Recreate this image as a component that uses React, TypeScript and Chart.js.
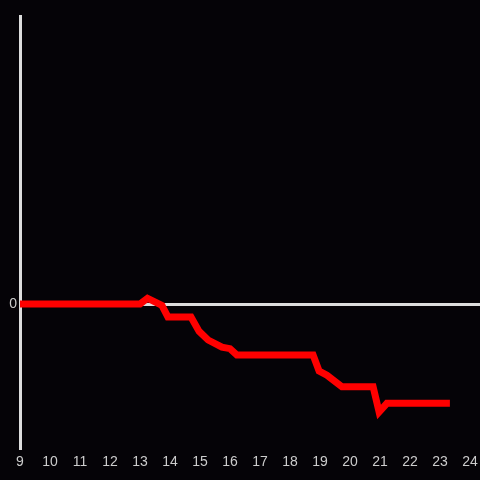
import React, { useEffect, useRef } from "react";
import { Chart, registerables } from "chart.js";

Chart.register(...registerables);

const hours = [9, 13.0, 13.25, 13.73, 13.93, 14.7, 14.97, 15.27, 15.73, 16.0, 16.23, 18.77, 18.97, 19.23, 19.73, 20.77, 20.97, 21.23, 23.33];
const values = [0, 0, 0.04, -0.01, -0.09, -0.09, -0.19, -0.25, -0.3, -0.31, -0.355, -0.355, -0.465, -0.495, -0.575, -0.575, -0.75, -0.69, -0.69];
const xTickLabels = ["9", "10", "11", "12", "13", "14", "15", "16", "17", "18", "19", "20", "21", "22", "23", "24"];
const yTickLabels = ["0"];

const BG = "#050307";
const AXIS = "#dddddd";
const TEXT = "#cccccc";

export default function App() {
  const ref = useRef<HTMLCanvasElement>(null);
  useEffect(() => {
    document.body.style.margin = "0";
    document.body.style.background = BG;
    const bgPlugin = {
      id: "bg",
      beforeDraw(chart: any) {
        const ctx = chart.ctx;
        ctx.save();
        ctx.fillStyle = BG;
        ctx.fillRect(0, 0, chart.width, chart.height);
        ctx.restore();
      },
    };
    const chart = new Chart(ref.current!, {
      type: "line",
      data: {
        datasets: [
          {
            data: hours.map((h, i) => ({ x: h, y: values[i] })),
            borderColor: "#ff0000",
            borderWidth: 7,
            pointRadius: 0,
            tension: 0,
            fill: false,
          },
        ],
      },
      options: {
        animation: false,
        responsive: true,
        maintainAspectRatio: false,
        layout: { autoPadding: false, padding: { top: 16, right: -4, left: 0, bottom: 0 } },
        plugins: { legend: { display: false }, tooltip: { enabled: false } },
        scales: {
          x: {
            type: "linear",
            min: 9,
            max: 9 + 460 / 30,
            afterBuildTicks: (axis: any) => {
              axis.ticks = xTickLabels.map((l) => ({ value: Number(l) }));
            },
            ticks: {
              color: TEXT,
              font: { size: 14, family: "Liberation Sans, Arial, sans-serif" },
              padding: 6,
              maxRotation: 0,
              autoSkip: false,
              callback: (v: any) => String(v),
            },
            grid: { display: false, drawTicks: false },
            border: { display: false },
            afterFit: (axis: any) => {
              axis.height = 32;
              axis.paddingRight = 0;
              axis.paddingLeft = 0;
            },
          },
          y: {
            type: "linear",
            min: -1,
            max: 2,
            afterBuildTicks: (axis: any) => {
              axis.ticks = yTickLabels.map((l) => ({ value: Number(l) }));
            },
            ticks: {
              color: TEXT,
              font: { size: 14, family: "Liberation Sans, Arial, sans-serif" },
              padding: 3,
              callback: (v: any) => String(v),
            },
            grid: {
              color: AXIS,
              lineWidth: 3,
              drawTicks: false,
            },
            border: { display: true, color: AXIS, width: 3 },
            afterFit: (axis: any) => {
              axis.width = 20;
            },
          },
        },
      },
      plugins: [bgPlugin],
    });
    return () => chart.destroy();
  }, []);
  return (
    <div style={{ position: "absolute", left: 0, top: 0, width: 480, height: 480, background: BG }}>
      <canvas ref={ref} />
    </div>
  );
}
